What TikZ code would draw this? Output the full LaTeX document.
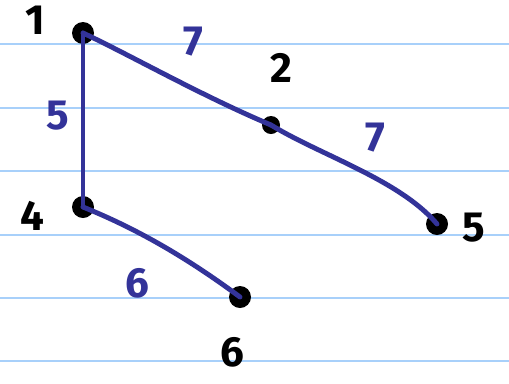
\documentclass[tikz,border=0pt]{standalone}
\usepackage{fontspec}
\setmainfont{Fira Sans}
\definecolor{penblue}{HTML}{333399}
\definecolor{ruled}{HTML}{A8D0FA}
\tikzset{
  vertex/.style={circle,fill=black,inner sep=0pt,minimum size=0.44cm},
  vlabel/.style={text=black,inner sep=1pt,font=\fontsize{24}{26}\selectfont\bfseries},
  wlabel/.style={text=penblue,inner sep=1pt,font=\fontsize{24}{26}\selectfont\bfseries},
  edge/.style={draw=penblue,line width=2.8pt,line cap=round,line join=round}
}
\begin{document}
\begin{tikzpicture}[x=0.02cm,y=-0.02cm]

  % ---- il foglio a righe ---------------------------------------------------
  \useasboundingbox (0,0) rectangle (509,383);
  \fill[white] (0,0) rectangle (509,383);
  \foreach \y in {44,108,171,235,298,361}
    \draw[ruled,line width=1.1pt] (0,\y) -- (509,\y);

  % ---- i vertici -------------------------------------------------------------
  \node[vertex] (v1) at (83,33) {};
  \node[vertex,minimum size=0.36cm] (v2) at (271,125) {};
  \node[vertex] (v4) at (83,207) {};
  \node[vertex] (v5) at (437,224) {};
  \node[vertex] (v6) at (240,297) {};

  \node[vlabel] (l1) at (35,20) {1};
  \node[vlabel] (l2) at (281,68) {2};
  \node[vlabel] (l4) at (32,216) {4};
  \node[vlabel] (l5) at (474,228) {5};
  \node[vlabel] (l6) at (232,352) {6};

  % ---- gli archi -------------------------------------------------------------
  \draw[edge] (v1.center) .. controls (130,55) and (200,95) .. (v2.center);
  \draw[edge] (v2.center) .. controls (320,155) and (400,180) .. (v5.center);
  \draw[edge] (v1.center) -- (v4.center);
  \draw[edge] (v4.center) .. controls (140,230) and (190,260) .. (v6.center);

  \node[wlabel] (w12) at (193,42) {7};
  \node[wlabel] (w25) at (375,138) {7};
  \node[wlabel] (w14) at (58,116) {5};
  \node[wlabel] (w46) at (137,283) {6};

\end{tikzpicture}
\end{document}
